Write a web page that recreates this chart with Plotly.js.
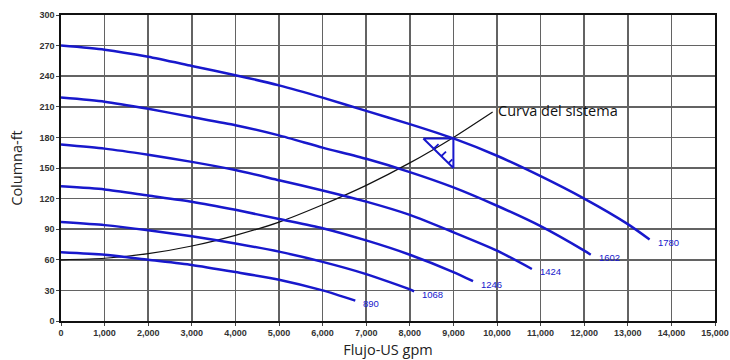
<!DOCTYPE html>
<html>
<head>
<meta charset="utf-8">
<script src="https://cdn.plot.ly/plotly-3.0.1.min.js"></script>
<style>html,body{margin:0;padding:0;background:#fff;}#chart{width:730px;height:360px;}</style>
</head>
<body>
<div id="chart"></div>
<script>
// Pump curves (flow in US gpm, head in ft), one per speed (rpm)
const speedLabels = ['1780', '1602', '1424', '1246', '1068', '890'];

const q1780 = [0, 1000, 2000, 3000, 4000, 5000, 6000, 7000, 8000, 9000, 10000, 11000, 12000, 13000, 13500];
const h1780 = [270, 266, 259, 250, 241, 231, 219, 206, 193, 179, 162, 142, 120, 95, 80];

const q1602 = [0, 1000, 2000, 3000, 4000, 5000, 6000, 7000, 8000, 9000, 10000, 11000, 12000, 12150];
const h1602 = [219, 215, 208, 200, 192, 182, 170, 159, 146, 131, 113, 93, 69, 65];

const q1424 = [0, 1000, 2000, 3000, 4000, 5000, 6000, 7000, 8000, 9000, 10000, 10800];
const h1424 = [173, 169, 163, 156, 148, 138, 128, 117, 104, 87, 69, 51];

const q1246 = [0, 1000, 2000, 3000, 4000, 5000, 6000, 7000, 8000, 9000, 9450];
const h1246 = [132, 129, 123, 117, 109, 100, 91, 79, 65, 48, 39];

const q1068 = [0, 1000, 2000, 3000, 4000, 5000, 6000, 7000, 8000, 8100];
const h1068 = [97, 94, 89, 83, 76, 68, 58, 46, 31, 29];

const q890 = [0, 1000, 2000, 3000, 4000, 5000, 6000, 6750];
const h890 = [67.5, 65, 60, 55, 48, 40.5, 30, 20];

// System curve
const qSystem = [0, 1000, 2000, 3000, 4000, 5000, 6000, 7000, 8000, 9000, 9900];
const hSystem = [60, 61.5, 66, 73.5, 84, 97, 114, 133, 155, 180, 205];
const systemLabel = 'Curva del sistema';

// Operating point marker (triangle with hatching)
const triQ = [8310, 9000, 9000, 8310];
const triH = [179, 179, 150, 179];
const hatchQ = [8550, 8660, null, 8720, 8830, null, 8880, 8975];
const hatchH = [169, 173.5, null, 161.5, 166, null, 154.5, 158.5];

// Axis titles
const xTitle = 'Flujo-US gpm';
const yTitle = 'Columna-ft';

const pumpQ = [q1780, q1602, q1424, q1246, q1068, q890];
const pumpH = [h1780, h1602, h1424, h1246, h1068, h890];

const blue = '#1818cc';
const traces = [];
const annotations = [];

traces.push({
  x: qSystem, y: hSystem, type: 'scatter', mode: 'lines',
  line: {color: '#111', width: 1.2, shape: 'spline', smoothing: 0.6},
  hoverinfo: 'skip', showlegend: false
});

pumpQ.forEach((q, i) => {
  traces.push({
    x: q, y: pumpH[i], type: 'scatter', mode: 'lines', name: speedLabels[i],
    line: {color: blue, width: 2.5, shape: 'spline', smoothing: 0.6},
    showlegend: false
  });
  annotations.push({
    x: q[q.length - 1], y: pumpH[i][pumpH[i].length - 1], xref: 'x', yref: 'y',
    text: speedLabels[i], showarrow: false, xanchor: 'left', yanchor: 'middle',
    xshift: 6, yshift: -3,
    font: {family: 'Liberation Sans, Arial, sans-serif', size: 9.5, color: blue}
  });
});

traces.push({
  x: triQ, y: triH, type: 'scatter', mode: 'lines',
  line: {color: blue, width: 2}, hoverinfo: 'skip', showlegend: false
});
traces.push({
  x: hatchQ, y: hatchH, type: 'scatter', mode: 'lines',
  line: {color: blue, width: 1.8}, hoverinfo: 'skip', showlegend: false, connectgaps: false
});

annotations.push({
  x: qSystem[qSystem.length - 1], y: hSystem[hSystem.length - 1], xref: 'x', yref: 'y',
  text: systemLabel, showarrow: false, xanchor: 'left', yanchor: 'middle', xshift: 3, yshift: 1,
  font: {family: 'Open Sans, sans-serif', size: 14.5, color: '#111'}
});

const tickFont = {family: 'Liberation Sans, Arial, sans-serif', size: 9, color: '#333', weight: 'bold'};

const layout = {
  width: 730, height: 360,
  margin: {l: 61, r: 15, t: 15, b: 39, pad: 0},
  paper_bgcolor: '#fff', plot_bgcolor: '#fff',
  showlegend: false,
  xaxis: {
    range: [0, 15000], dtick: 1000, tick0: 0, tickformat: ',d',
    showgrid: true, gridcolor: '#636363', gridwidth: 1.5,
    showline: true, linecolor: '#111', linewidth: 1.6, mirror: true,
    ticks: 'outside', ticklen: 3, tickcolor: '#444', tickwidth: 1,
    tickfont: tickFont, zeroline: false,
    title: {text: xTitle, standoff: 7, font: {family: 'Open Sans, sans-serif', size: 14.5, color: '#222'}}
  },
  yaxis: {
    range: [0, 300], dtick: 30, tick0: 0,
    showgrid: true, gridcolor: '#636363', gridwidth: 1.5,
    showline: true, linecolor: '#111', linewidth: 1.6, mirror: true,
    ticks: 'outside', ticklen: 3, tickcolor: '#444', tickwidth: 1,
    tickfont: tickFont, zeroline: false,
    title: {text: yTitle, standoff: 13, font: {family: 'Open Sans, sans-serif', size: 14.5, color: '#222'}}
  },
  annotations: annotations
};

Plotly.newPlot('chart', traces, layout, {displayModeBar: false, staticPlot: true});
</script>
</body>
</html>
